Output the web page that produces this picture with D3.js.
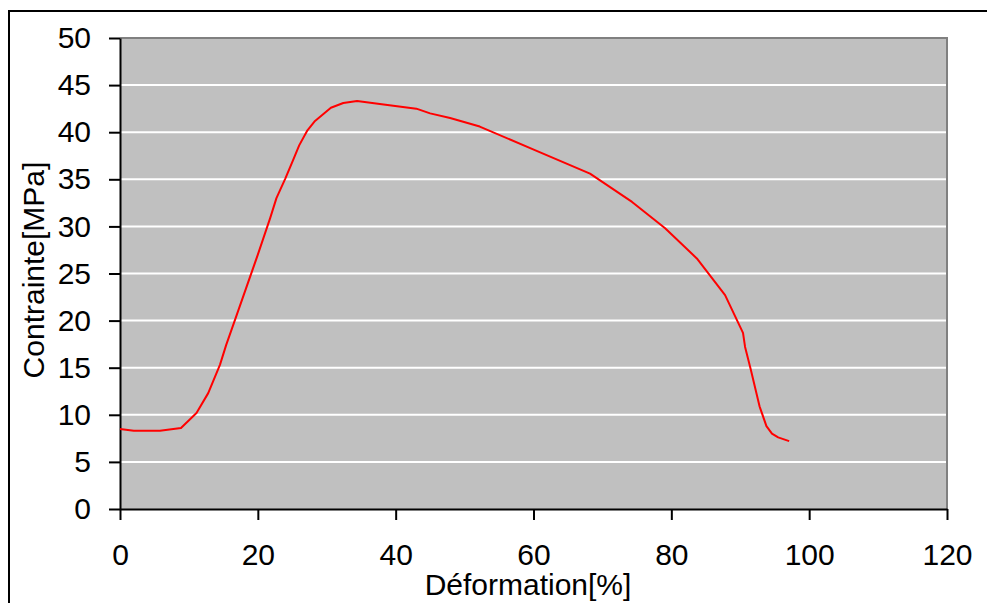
<!DOCTYPE html>
<html>
<head>
<meta charset="utf-8">
<script src="https://cdn.jsdelivr.net/npm/d3@7"></script>
<style>
  html, body { margin: 0; padding: 0; background: #ffffff; }
  svg { display: block; }
  text { font-family: Arial, "Liberation Sans", sans-serif; fill: #000; }
</style>
</head>
<body>
<svg id="chart" width="987" height="603"></svg>
<script>
// Strain (%) and stress (MPa) readings of the tensile test
const strain = [0, 2, 5.8, 8.85, 11.1, 12.8, 14.5, 15.4, 16.7, 20.0, 21.8, 22.7, 24.0, 25.1, 26.0, 27.2, 28.3, 30.6, 32.4, 34.4, 37.7, 43.0, 45.0, 47.9, 52.2, 60.2, 68.2, 74.3, 79.1, 83.7, 87.8, 90.4, 90.7, 91.5, 92.8, 93.8, 94.6, 95.5, 97.1];
const stress = [8.5, 8.3, 8.3, 8.6, 10.2, 12.3, 15.3, 17.4, 20.1, 27.0, 30.9, 33.0, 35.1, 37.0, 38.6, 40.2, 41.2, 42.6, 43.1, 43.3, 43.0, 42.5, 42.0, 41.5, 40.6, 38.1, 35.6, 32.6, 29.8, 26.6, 22.7, 18.7, 17.2, 14.9, 10.9, 8.8, 8.0, 7.6, 7.2];

const xTicks = [0, 20, 40, 60, 80, 100, 120];
const yTicks = [0, 5, 10, 15, 20, 25, 30, 35, 40, 45, 50];

const xTitle = "Déformation[%]";
const yTitle = "Contrainte[MPa]";

const svg = d3.select("#chart");
const plot = { left: 120, top: 38, right: 947, bottom: 509 };
const fontSize = 30;

const x = d3.scaleLinear().domain([0, 120]).range([plot.left, plot.right]);
const y = d3.scaleLinear().domain([0, 50]).range([plot.bottom, plot.top]);

// outer frame of the chart object
svg.append("rect")
  .attr("x", 9).attr("y", 11)
  .attr("width", 1000).attr("height", 620)
  .attr("fill", "none").attr("stroke", "#000").attr("stroke-width", 2);

// plot area
svg.append("rect")
  .attr("x", plot.left).attr("y", plot.top)
  .attr("width", plot.right - plot.left).attr("height", plot.bottom - plot.top)
  .attr("fill", "#c0c0c0");

// horizontal gridlines
svg.append("g")
  .selectAll("line")
  .data(yTicks.filter(d => d > 0 && d < 50))
  .join("line")
  .attr("x1", plot.left).attr("x2", plot.right)
  .attr("y1", d => y(d)).attr("y2", d => y(d))
  .attr("stroke", "#ffffff").attr("stroke-width", 2);

// grey border on the top and right of the plot area
svg.append("path")
  .attr("d", `M${plot.left},${plot.top}H${plot.right}V${plot.bottom}`)
  .attr("fill", "none").attr("stroke", "#808080").attr("stroke-width", 2);

// axes
const xAxis = d3.axisBottom(x).tickValues(xTicks).tickSize(11).tickSizeOuter(0).tickPadding(24);
const yAxis = d3.axisLeft(y).tickValues(yTicks).tickSize(11).tickSizeOuter(0).tickPadding(18);

const gx = svg.append("g").attr("transform", `translate(0,${plot.bottom})`).call(xAxis);
const gy = svg.append("g").attr("transform", `translate(${plot.left},0)`).call(yAxis);

[gx, gy].forEach(g => {
  g.select(".domain").attr("stroke", "#000").attr("stroke-width", 2);
  g.selectAll(".tick line").attr("stroke", "#000").attr("stroke-width", 2);
  g.selectAll(".tick text")
    .attr("font-size", fontSize)
    .attr("font-family", "Arial, 'Liberation Sans', sans-serif")
    .attr("fill", "#000");
});

// stress-strain curve
const line = d3.line().x((d, i) => x(strain[i])).y(d => y(d));
svg.append("path")
  .datum(stress)
  .attr("d", line)
  .attr("fill", "none")
  .attr("stroke", "#ff0000")
  .attr("stroke-width", 2)
  .attr("stroke-linejoin", "round");

// axis titles
svg.append("text")
  .attr("x", 528).attr("y", 595)
  .attr("text-anchor", "middle")
  .attr("font-size", fontSize)
  .text(xTitle);

svg.append("text")
  .attr("transform", "translate(44,270) rotate(-90)")
  .attr("text-anchor", "middle")
  .attr("font-size", fontSize)
  .text(yTitle);
</script>
</body>
</html>
